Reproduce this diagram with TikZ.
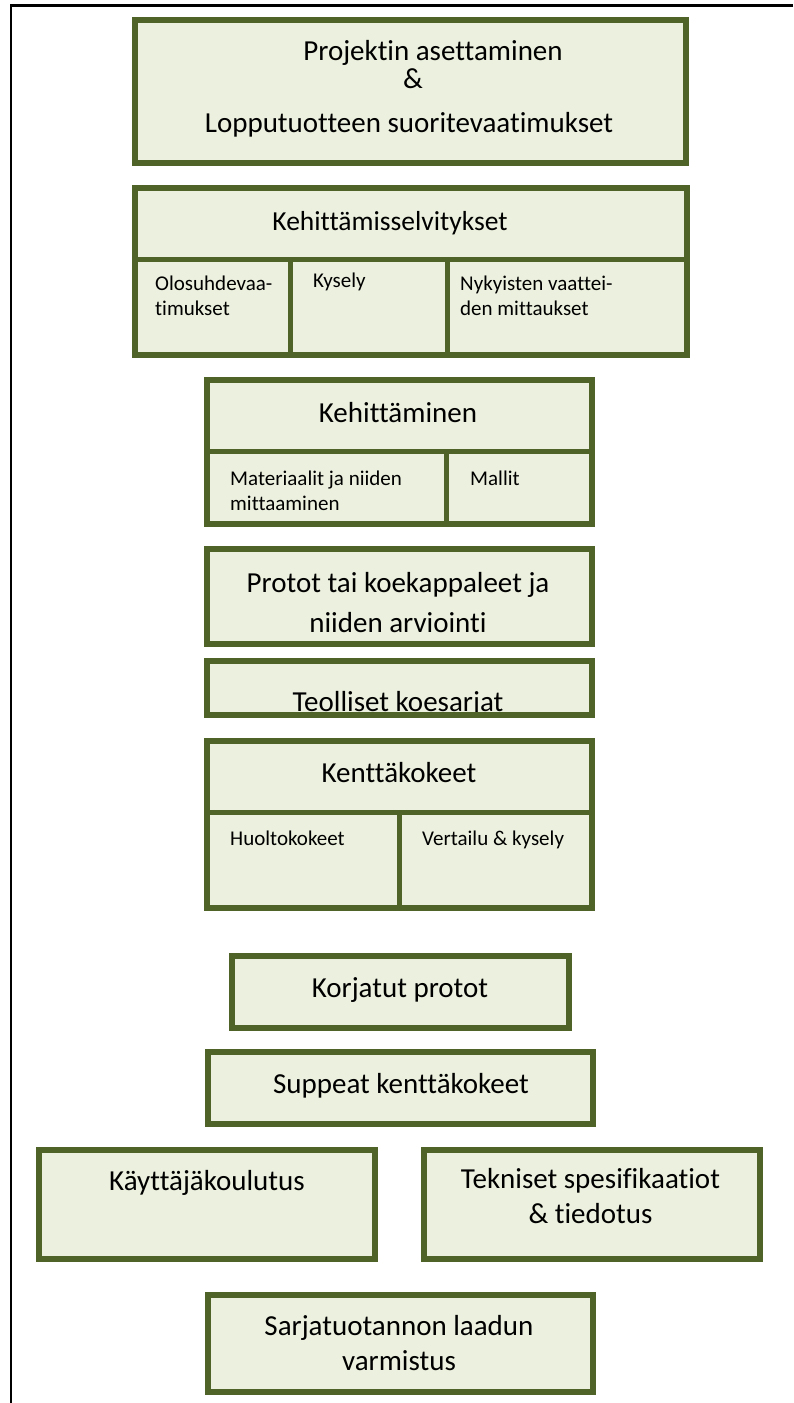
\documentclass[tikz,border=0pt]{standalone}
\usepackage{fontspec}
\setmainfont{Carlito}[Ligatures={NoCommon}]
\definecolor{boxfill}{HTML}{EBF1DE}
\definecolor{boxline}{HTML}{4F6228}
\tikzset{
  x=1pt, y=-1pt,
  box/.style={draw=boxline, fill=boxfill, line width=5.5pt, inner sep=0pt, rectangle},
  boxonly/.style={fill=boxfill, inner sep=0pt, rectangle},
  border/.style={draw=boxline, line width=5.5pt},
  divider/.style={draw=boxline, line width=5pt},
  big/.style={inner sep=0pt, font=\fontsize{29}{36}\selectfont},
  mid/.style={inner sep=0pt, font=\fontsize{27.5}{34}\selectfont},
  small/.style={inner sep=0pt, font=\fontsize{21}{25}\selectfont},
  frame/.style={draw=black, line width=2.3pt}
}
\begin{document}
\begin{tikzpicture}
\useasboundingbox (0,0) rectangle (793,1403);
% frame
\coordinate (ftl) at (11,5.5);
\coordinate (ftr) at (793,5.5);
\coordinate (fbl) at (11,1403);
\draw[frame] (ftr) -- (ftl) -- (fbl);

% boxes
\node[box, minimum width=551pt, minimum height=143pt] (b1) at (410.5,91.5) {};
\node[box, minimum width=552pt, minimum height=167pt] (b2) at (411,271.5) {};
\node[box, minimum width=385pt, minimum height=144pt] (b3) at (399.5,452) {};
\node[box, minimum width=385pt, minimum height=95pt] (b4) at (399.5,596.5) {};
\node[boxonly, minimum width=385pt, minimum height=54pt] (b5) at (399.5,688) {};
\node[box, minimum width=385pt, minimum height=167pt] (b6) at (399.5,824.5) {};
\node[box, minimum width=337pt, minimum height=72pt] (b7) at (400.5,992) {};
\node[box, minimum width=385pt, minimum height=72pt] (b8) at (400.5,1088) {};
\node[box, minimum width=336pt, minimum height=109pt] (b9) at (207,1204.5) {};
\node[box, minimum width=336pt, minimum height=109pt] (b10) at (592,1204.5) {};
\node[box, minimum width=385pt, minimum height=97pt] (b11) at (400.5,1343.5) {};

% dividers
\draw[divider] (135,259) -- (687,259);
\draw[divider] (290.5,259) -- (290.5,355);
\draw[divider] (447.5,259) -- (447.5,355);
\draw[divider] (207,451.5) -- (592,451.5);
\draw[divider] (446.5,451.5) -- (446.5,524);
\draw[divider] (207,812) -- (592,812);
\draw[divider] (399.5,812) -- (399.5,908);

% texts
\node[big, anchor=base] (t1a) at (433,60) {Projektin asettaminen};
\node[big, anchor=base] (t1b) at (413,88) {\&};
\node[big, anchor=base] (t1c) at (409,132) {Lopputuotteen suoritevaatimukset};

\node[mid, anchor=base] (t2) at (390,230) {Kehittämisselvitykset};
\node[small, anchor=base west] (t2a1) at (155,290) {Olosuhdevaa-};
\node[small, anchor=base west] (t2a2) at (155,315) {timukset};
\node[small, anchor=base west] (t2b) at (313,287) {Kysely};
\node[small, anchor=base west] (t2c1) at (460,290) {Nykyisten vaattei-};
\node[small, anchor=base west] (t2c2) at (460,315) {den mittaukset};

\node[big, anchor=base] (t3) at (398,422) {Kehittäminen};
\node[small, anchor=base west] (t3a1) at (230,485) {Materiaalit ja niiden};
\node[small, anchor=base west] (t3a2) at (230,510) {mittaaminen};
\node[small, anchor=base west] (t3b) at (470,485) {Mallit};

\node[big, anchor=base] (t4a) at (398,592) {Protot tai koekappaleet ja};
\node[big, anchor=base] (t4b) at (398,632) {niiden arviointi};

\node[big, anchor=base] (t5) at (398,711) {Teolliset koesarjat};
\draw[border] (b5.north west) rectangle (b5.south east);

\node[big, anchor=base] (t6) at (399,782) {Kenttäkokeet};
\node[small, anchor=base west] (t6a) at (230,845) {Huoltokokeet};
\node[small, anchor=base west] (t6b) at (422,845) {Vertailu \& kysely};

\node[big, anchor=base] (t7) at (400,997) {Korjatut protot};
\node[big, anchor=base] (t8) at (401,1093) {Suppeat kenttäkokeet};
\node[big, anchor=base] (t9) at (207,1190) {Käyttäjäkoulutus};
\node[big, anchor=base] (t10a) at (590.5,1188) {Tekniset spesifikaatiot};
\node[big, anchor=base] (t10b) at (590.5,1223) {\& tiedotus};
\node[big, anchor=base] (t11a) at (399,1335) {Sarjatuotannon laadun};
\node[big, anchor=base] (t11b) at (399,1370) {varmistus};
\end{tikzpicture}
\end{document}
